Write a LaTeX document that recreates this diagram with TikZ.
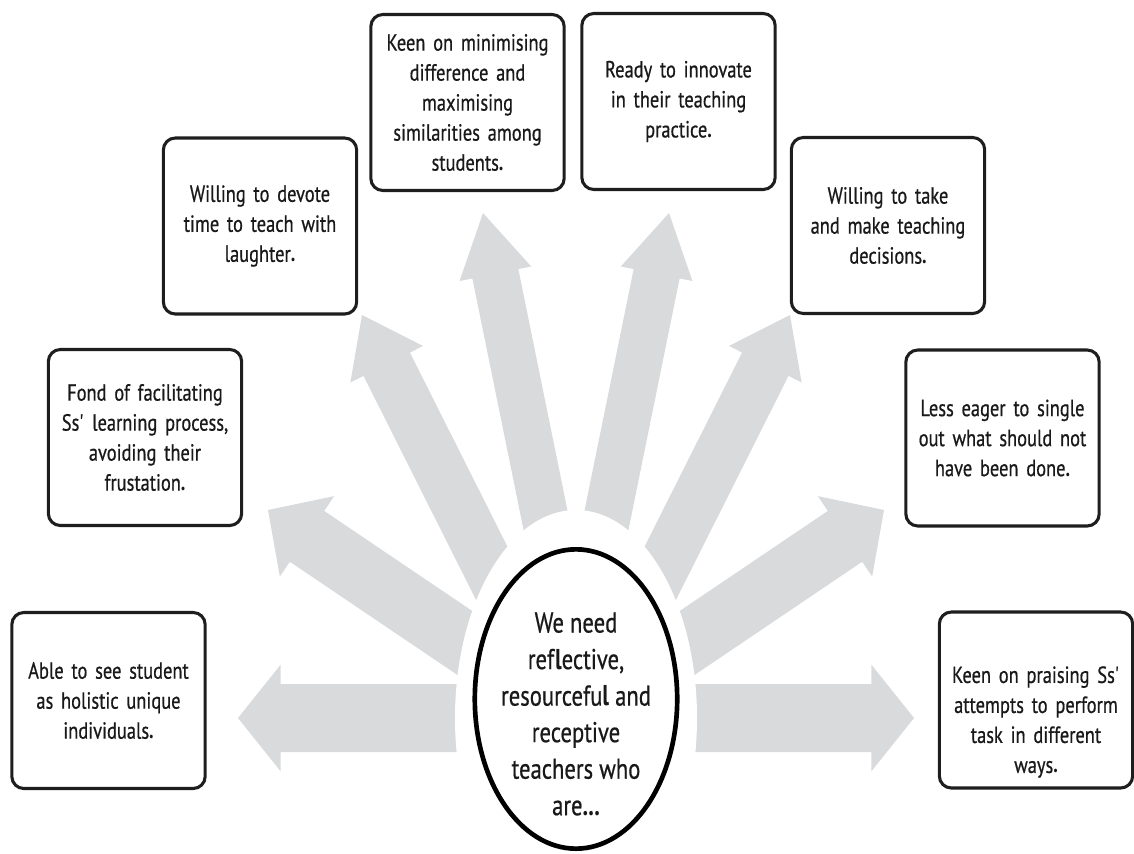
\documentclass[tikz,border=0pt]{standalone}
\usepackage{fontspec}
\setmainfont{PT Sans}[FakeStretch=0.79, UprightFeatures={FakeBold=0.6}]
\usepackage{tikz}
\usetikzlibrary{shapes.geometric, calc}
\definecolor{rayfill}{RGB}{217, 218, 220}
\definecolor{border}{RGB}{30, 30, 30}
\definecolor{ink}{RGB}{25, 25, 25}
\tikzstyle{ray} = [fill=rayfill, draw=none]
\tikzstyle{box} = [rectangle, draw=border, line width=2.3pt, fill=white, rounded corners=9pt, minimum width=145pt, minimum height=132pt, text width=138pt, align=center, inner sep=2pt, text=ink, font=\fontsize{17.5}{22.5}\selectfont]
\tikzstyle{hub} = [ellipse, draw=black, line width=3.5pt, fill=white, minimum width=151.8pt, minimum height=224.5pt, inner sep=0pt]
\tikzstyle{hubtext} = [align=center, text=ink, font=\fontsize{21.5}{27.4}\selectfont]
% block arrow: base, tip, half shaft, half head, head length
\newcommand{\fanarrow}[5]{
    \coordinate (hb) at ($(#2)!#5!(#1)$);
    \fill [ray] ($(#1)!#3!90:(#2)$) -- ($(hb)!#3!90:(#2)$) -- ($(hb)!#4!90:(#2)$) -- (#2)
        -- ($(hb)!#4!-90:(#2)$) -- ($(hb)!#3!-90:(#2)$) -- ($(#1)!#3!-90:(#2)$) -- cycle;
}

\begin{document}
\begin{tikzpicture}[x=0.75pt, y=-0.75pt]
    \useasboundingbox (0,0) rectangle (1134,853);

    \coordinate (mid) at (576,718);
    \coordinate (low) at (576,741);
    \coordinate (high) at (576,670);
    \coordinate (to-able) at (238,718);
    \coordinate (to-fond) at (268,510);
    \coordinate (to-devote) at (362,315);
    \coordinate (to-keen) at (483,213);
    \coordinate (to-ready) at (669,213);
    \coordinate (to-take) at (790,315);
    \coordinate (to-less) at (884,510);
    \coordinate (to-praise) at (914,718);

    \fanarrow{mid}{to-able}{25.5pt}{40pt}{32pt}
    \fanarrow{mid}{to-praise}{25.5pt}{40pt}{32pt}
    \fanarrow{mid}{to-fond}{23pt}{36.4pt}{35.3pt}
    \fanarrow{mid}{to-less}{23pt}{36.4pt}{35.3pt}
    \fanarrow{low}{to-devote}{19.5pt}{30.5pt}{41.3pt}
    \fanarrow{low}{to-take}{19.5pt}{30.5pt}{41.3pt}
    \fanarrow{high}{to-keen}{17.6pt}{27.4pt}{46.5pt}
    \fanarrow{high}{to-ready}{17.6pt}{27.4pt}{46.5pt}
    \fill [white] (mid) ellipse [x radius=90.75pt, y radius=156pt];

    \node (hub) [hub] at (576,699) {};
    \node (hubtext) [hubtext] at (576,714) {We need\\ ref\textbf{l}ective,\\ resourcefu\textbf{l} and\\ receptive\\ teachers who\\ are\textbf{...}};

    \node (able) [box] at (108.5,700.5) {Able to see student\\ as holistic unique\\ individuals\textbf{.}};
    \node (fond) [box] at (145,437.5) {Fond of facilitating\\ Ss\textquotesingle{} learning process,\\ avoiding their\\ frustation\textbf{.}};
    \node (devote) [box] at (260,226) {Willing to devote\\ time to teach with\\ laughter\textbf{.}};
    \node (keen) [box] at (467.5,102.5) {Keen on minimising\\ difference and\\ maximising\\ similarities among\\ students\textbf{.}};
    \node (ready) [box] at (678.5,101.5) {Ready to innovate\\ in their teaching\\ practice\textbf{.}};
    \node (take) [box] at (888,225.5) {Willing to take\\ and make teaching\\ decisions\textbf{.}};
    \node (less) [box] at (1002.5,438) {Less eager to single\\ out what should not\\ have been done\textbf{.}};
    \node (praise) [box] at (1036,700) {};
    \node (praisetext) [box, draw=none, fill=none, minimum height=0pt] at (1036,722) {Keen on praising Ss\textquotesingle\\ attempts to perform\\ task in different\\ ways\textbf{.}};
\end{tikzpicture}
\end{document}
